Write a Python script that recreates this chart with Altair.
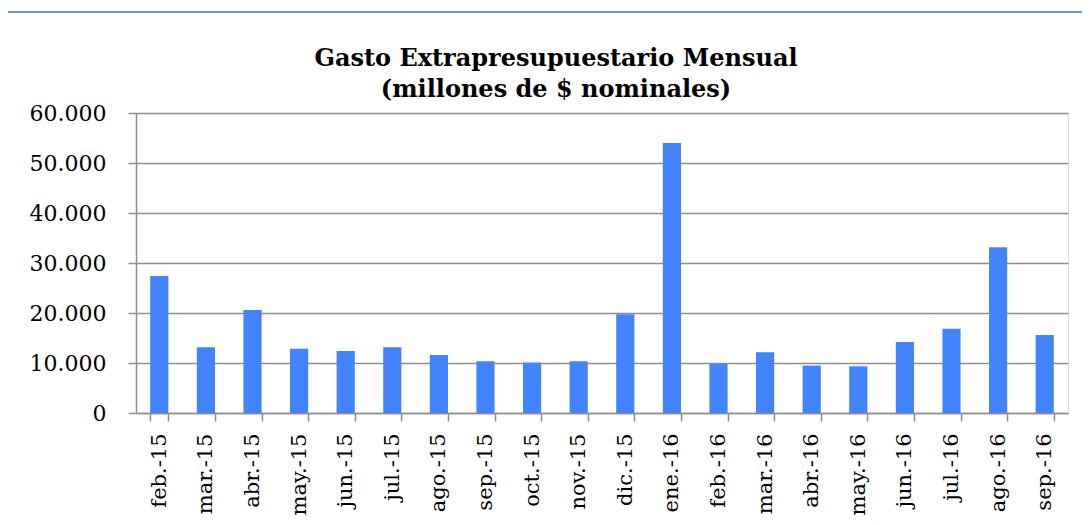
import altair as alt
import pandas as pd

months = ["feb.-15", "mar.-15", "abr.-15", "may.-15", "jun.-15", "jul.-15", "ago.-15",
          "sep.-15", "oct.-15", "nov.-15", "dic.-15", "ene.-16", "feb.-16", "mar.-16",
          "abr.-16", "may.-16", "jun.-16", "jul.-16", "ago.-16", "sep.-16"]
values = [27400, 13140, 20600, 12870, 12400, 13140, 11600, 10340, 10070, 10340,
          19740, 54000, 9800, 12140, 9470, 9340, 14200, 16870, 33140, 15600]
y_ticks = [0, 10000, 20000, 30000, 40000, 50000, 60000]

df = pd.DataFrame({"mes": months, "gasto": values})

W, H = 932, 300
SERIF = "DejaVu Serif"

base = alt.Chart(df)

bars = base.mark_bar(color="#4383FC").encode(
    x=alt.X("mes:N", sort=months, title=None,
            scale=alt.Scale(paddingInner=0.61, paddingOuter=0.305),
            axis=alt.Axis(labelAngle=-90, labelAlign="right", labelBaseline="middle",
                          labelFont=SERIF, labelFontSize=21, labelColor="#000000",
                          labelPadding=12, tickSize=8, tickBand="extent",
                          domainColor="#8E8E8E", tickColor="#8E8E8E",
                          domainWidth=1.5, tickWidth=1.5, grid=False)),
    y=alt.Y("gasto:Q", title=None,
            scale=alt.Scale(domain=[0, 60000], nice=False),
            axis=alt.Axis(values=y_ticks,
                          labelExpr="replace(format(datum.value, ','), ',', '.')",
                          labelFont=SERIF, labelFontSize=22, labelColor="#000000",
                          labelPadding=22, tickSize=8,
                          domainColor="#8E8E8E", tickColor="#8E8E8E",
                          domainWidth=1.5, tickWidth=1.5,
                          grid=True, gridColor="#8E8E8E", gridWidth=1.5)),
)

border = base.mark_rect(filled=False, stroke="#6A9BD8", strokeWidth=1.5).encode(
    x=alt.value(-129), x2=alt.value(1100), y=alt.value(-101), y2=alt.value(700)
)

chart = alt.layer(border, bars).properties(
    width=W, height=H,
    autosize=alt.AutoSizeParams(type="none"),
    padding={"left": 128, "top": 105, "right": 14, "bottom": 104},
    title=alt.TitleParams(
        text=["Gasto Extrapresupuestario Mensual", "(millones de $ nominales)"],
        font=SERIF, fontSize=24, fontWeight="bold", color="#000000",
        lineHeight=31, anchor="middle", frame="group", dx=-46, offset=-91,
    ),
).configure_view(stroke=None).configure(background="white")

chart.save("out.html", embed_options={"renderer": "svg", "actions": False})
